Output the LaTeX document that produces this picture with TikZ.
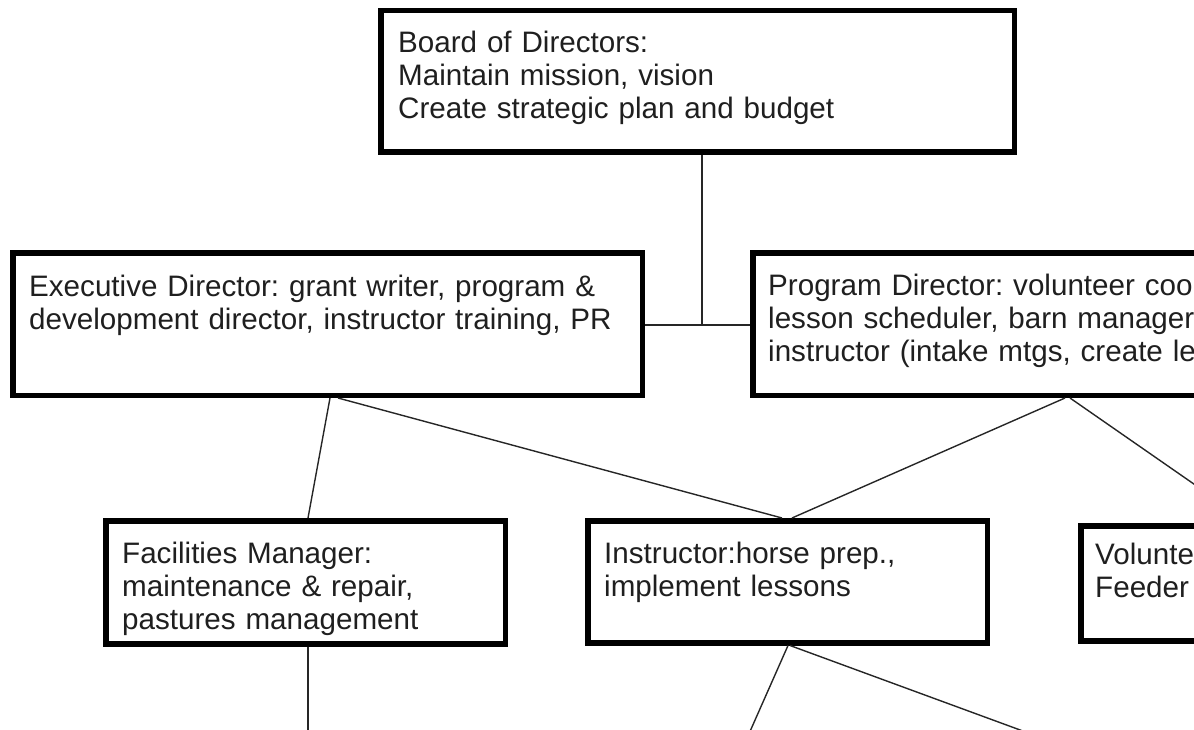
\documentclass[tikz,border=0pt]{standalone}
\usepackage{fontspec}
\setmainfont{Liberation Sans}
\usetikzlibrary{calc}
\frenchspacing
\begin{document}
\begin{tikzpicture}[x=1pt,y=-1pt,
  box/.style={draw=black, line width=5.5pt, fill=white, anchor=north west, inner sep=0pt},
  txt/.style={anchor=base west, inner sep=0pt, text width=1000pt, align=left,
    font=\fontsize{29.6}{33}\selectfont\frenchspacing, text=black!88},
  conn/.style={draw=black!85, line width=1.4pt}]
\path[use as bounding box] (0,0) rectangle (1194,730);
\clip (0,0) rectangle (1194,730);
% boxes
\node[box, minimum width=633.5pt, minimum height=141.5pt] (board) at (378,8) {};
\node[box, minimum width=629.5pt, minimum height=142.5pt] (exec) at (10,250) {};
\node[box, minimum width=700pt, minimum height=142.5pt] (prog) at (750,250) {};
\node[box, minimum width=399.5pt, minimum height=123pt] (fac) at (103,518) {};
\node[box, minimum width=399.5pt, minimum height=122pt] (inst) at (585,518) {};
\node[box, minimum width=400pt, minimum height=115pt] (vol) at (1078,523) {};
% texts
\node[txt] (boardt) at (398,53) {Board of Directors:\\Maintain mission, vision\\Create strategic plan and budget};
\node[txt] (exect) at (29,296) {Executive Director: grant writer, program \&\\development director, instructor training, PR};
\node[txt] (progt) at (768,295) {Program Director: volunteer coordinator,\\lesson scheduler, barn manager,\\instructor (intake mtgs, create lessons)};
\node[txt] (fact) at (122,563) {Facilities Manager:\\maintenance \& repair,\\pastures management};
\node[txt] (instt) at (604,563) {Instructor:horse prep.,\\implement lessons};
\node[txt] (volt) at (1095,564) {Volunteer Coordinator:\\Feeder};
% connectors
\coordinate (junc) at (702,325);
\draw[conn] (exec.east |- junc) -- (prog.west |- junc);
\draw[conn] (board.south -| junc) -- (junc);
\draw[conn] ($(exec.south west)+(320,0)$) -- ($(fac.north west)+(205,0)$);
\draw[conn] ($(exec.south west)+(328,0)$) -- ($(inst.north west)+(197,0)$);
\draw[conn] ($(prog.south west)+(315,0)$) -- ($(inst.north west)+(207,0)$);
\draw[conn] ($(prog.south west)+(320,0)$) -- ($(vol.north west)+(172,0)$);
\coordinate (facend) at (308,745);
\draw[conn] (fac.south -| facend) -- (facend);
\coordinate (instendA) at (744,745);
\coordinate (instendB) at (1061,745);
\draw[conn] ($(inst.south west)+(203,0)$) -- (instendA);
\draw[conn] ($(inst.south west)+(205,0)$) -- (instendB);
\end{tikzpicture}
\end{document}
